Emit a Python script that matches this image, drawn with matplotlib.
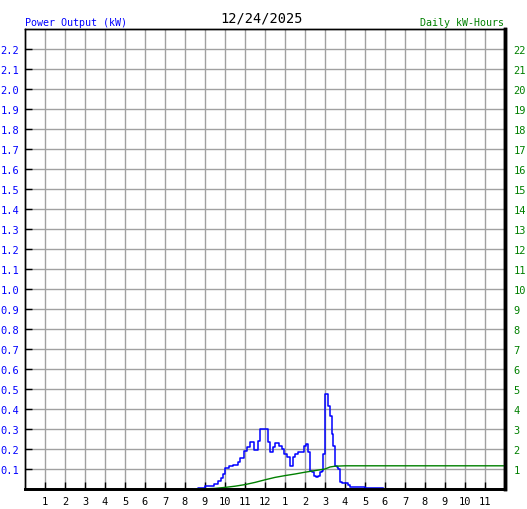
import matplotlib
matplotlib.use("Agg")
import matplotlib.pyplot as plt
from matplotlib.ticker import FixedLocator

# Power output (kW) samples: hour of day, value
power_hours = [8.47, 8.67, 9.0, 9.47, 9.67, 9.8, 9.92, 10.0, 10.2, 10.42, 10.63,
               10.75, 10.97, 11.08, 11.25, 11.47, 11.67, 11.75, 12.17, 12.25,
               12.42, 12.5, 12.7, 12.83, 12.97, 13.08, 13.25, 13.42, 13.5, 13.63,
               13.97, 14.03, 14.17, 14.25, 14.33, 14.47, 14.53, 14.67, 14.75,
               14.83, 14.92, 15.0, 15.17, 15.25, 15.33, 15.42, 15.5, 15.58,
               15.67, 15.75, 15.83, 16.17, 16.25, 17.0, 17.92]
power_kw = [0.0, 0.005, 0.017, 0.025, 0.04, 0.053, 0.075, 0.103, 0.113, 0.122,
            0.137, 0.153, 0.192, 0.208, 0.233, 0.195, 0.24, 0.30, 0.233, 0.183,
            0.208, 0.23, 0.217, 0.2, 0.175, 0.158, 0.117, 0.158, 0.175, 0.183,
            0.217, 0.225, 0.183, 0.092, 0.083, 0.067, 0.058, 0.067, 0.083,
            0.092, 0.175, 0.474, 0.417, 0.367, 0.275, 0.217, 0.117, 0.11, 0.1,
            0.033, 0.028, 0.02, 0.008, 0.003, 0.003]

# Cumulative daily energy (kWh)
energy_hours = [8.5, 9.0, 9.5, 10.0, 10.5, 11.0, 11.5, 12.0, 12.5, 13.0, 13.5,
                14.0, 14.5, 15.0, 15.25, 15.5, 16.0, 18.0, 23.95]
energy_kwh = [0.0, 0.01, 0.03, 0.08, 0.14, 0.22, 0.33, 0.46, 0.58, 0.67, 0.75,
              0.84, 0.92, 1.0, 1.1, 1.14, 1.16, 1.16, 1.16]

hour_labels = ["1", "2", "3", "4", "5", "6", "7", "8", "9", "10", "11", "12",
               "1", "2", "3", "4", "5", "6", "7", "8", "9", "10", "11"]
kw_labels = ["%.1f" % (i / 10) for i in range(1, 23)]
kwh_labels = [str(i) for i in range(1, 23)]

title = "12/24/2025"
left_title = "Power Output (kW)"
right_title = "Daily kW-Hours"

mono = "DejaVu Sans Mono"
W, H = 527, 510
fig = plt.figure(figsize=(W / 100, H / 100), dpi=100)
ax = fig.add_axes([25 / W, 20 / H, 480 / W, 460 / H])
ax.set_xlim(0, 24)
ax.set_ylim(0, 2.3)

ax.xaxis.set_major_locator(FixedLocator(range(1, 24)))
ax.set_xticklabels(hour_labels)
ax.yaxis.set_major_locator(FixedLocator([i / 10 for i in range(1, 23)]))
ax.set_yticklabels(kw_labels)

# grid lines drawn explicitly at every hour / every 0.1 kW
for h in range(1, 24):
    ax.axvline(h, color="#a0a0a0", linewidth=1.0, zorder=0.5)
for i in range(1, 23):
    ax.axhline(i / 10, color="#a0a0a0", linewidth=1.0, zorder=0.5)

ax.tick_params(axis="x", which="major", direction="in", length=5, width=1,
               color="black", labelsize=7.5, labelcolor="black", pad=5)
ax.tick_params(axis="y", which="major", direction="in", length=5, width=1,
               color="black", labelsize=7.5, labelcolor="#0000ff", pad=4)
for lab in ax.get_xticklabels() + ax.get_yticklabels():
    lab.set_fontfamily(mono)

ax2 = ax.twinx()
ax2.set_ylim(0, 23)
ax2.yaxis.set_major_locator(FixedLocator(range(1, 23)))
ax2.set_yticklabels(kwh_labels)
ax2.tick_params(axis="y", direction="in", length=0, labelsize=7.5,
                labelcolor="#008000", pad=6)
for lab in ax2.get_yticklabels():
    lab.set_fontfamily(mono)

ax.step(power_hours, power_kw, where="post", color="#0000ff", linewidth=1.1,
        zorder=3)
ax2.plot(energy_hours, energy_kwh, color="#008000", linewidth=1.0, zorder=2)

for a in (ax, ax2):
    a.spines["left"].set_linewidth(1.0)
    a.spines["top"].set_linewidth(1.0)
    a.spines["bottom"].set_linewidth(2.0)
    a.spines["right"].set_linewidth(2.5)

fig.text(262 / W, 1 - 19 / H, title, ha="center", va="center",
         fontsize=9.8, family=mono, color="black")
fig.text(25 / W, 1 - 23 / H, left_title, ha="left", va="center",
         fontsize=7.2, family=mono, color="#0000ff")
fig.text(504 / W, 1 - 23 / H, right_title, ha="right", va="center",
         fontsize=7.2, family=mono, color="#008000")

fig.savefig("out.png", dpi=100, facecolor="white")
